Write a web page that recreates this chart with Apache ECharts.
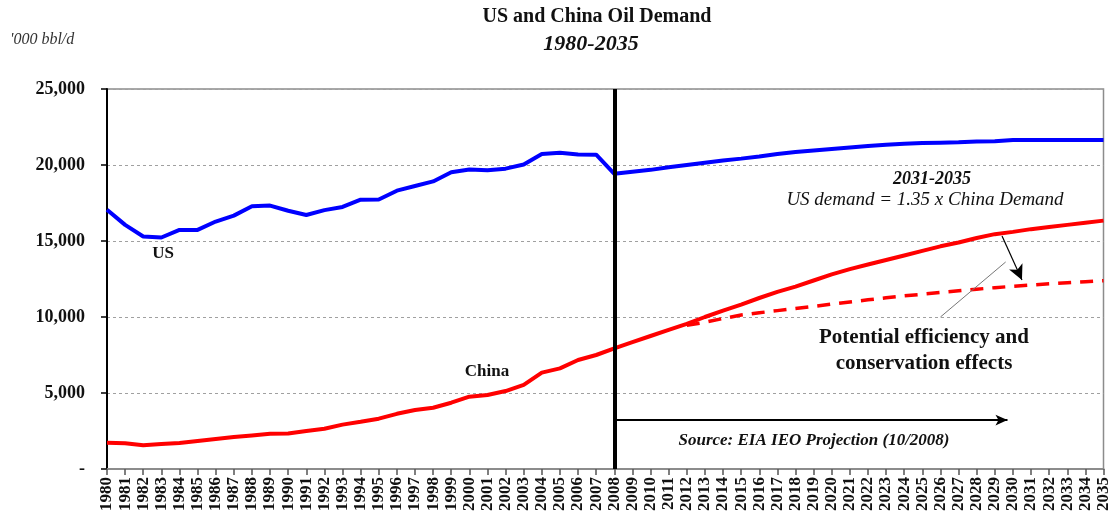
<!DOCTYPE html>
<html>
<head>
<meta charset="utf-8">
<script src="https://cdn.jsdelivr.net/npm/echarts@6/dist/echarts.min.js"></script>
<style>
html,body{margin:0;padding:0;background:#fff;}
#chart{width:1112px;height:521px;}
</style>
</head>
<body>
<div id="chart"></div>
<script>
// ---- Data ----
const years = [];
for (let y = 1980; y <= 2035; y++) years.push(y);

const usDemand = [
  17060, 16060, 15300, 15230, 15730, 15730, 16280, 16670, 17280, 17330,
  16990, 16710, 17030, 17240, 17720, 17730, 18310, 18620, 18920, 19520,
  19700, 19650, 19760, 20030, 20730, 20800, 20690, 20680, 19420, 19560,
  19680, 19850, 20000, 20150, 20300, 20420, 20560, 20720, 20850, 20950,
  21050, 21150, 21250, 21330, 21400, 21440, 21470, 21500, 21540, 21570,
  21650, 21650, 21650, 21650, 21650, 21650
];

const chinaDemand = [
  1720, 1700, 1560, 1640, 1710, 1840, 1970, 2100, 2210, 2320,
  2340, 2500, 2650, 2920, 3110, 3310, 3630, 3880, 4030, 4360,
  4760, 4870, 5130, 5530, 6340, 6620, 7170, 7500, 7940, 8350,
  8750, 9150, 9550, 10000, 10420, 10820, 11250, 11650, 12000, 12400,
  12800, 13150, 13450, 13750, 14050, 14350, 14650, 14900, 15200, 15450,
  15600, 15780, 15920, 16060, 16200, 16340
];

const efficiencyYears = [];
for (let y = 2012; y <= 2035; y++) efficiencyYears.push(y);
const chinaEfficiency = [
  9450, 9650, 9900, 10130, 10280, 10420, 10560, 10700, 10850, 10990,
  11130, 11260, 11390, 11500, 11610, 11720, 11830, 11930, 12020, 12100,
  12180, 12250, 12320, 12390
];

const yTicks = [0, 5000, 10000, 15000, 20000, 25000];
const yTickLabels = ['-', '5,000', '10,000', '15,000', '20,000', '25,000'];

const projectionStart = 2008;

// ---- Chart ----
const chart = echarts.init(document.getElementById('chart'), null, {renderer: 'canvas'});
const serif = '"Liberation Serif", "Times New Roman", serif';

const usData = years.map((y, i) => [y, usDemand[i]]);
const chinaData = years.map((y, i) => [y, chinaDemand[i]]);
const effData = efficiencyYears.map((y, i) => [y, chinaEfficiency[i]]);

const option = {
  animation: false,
  backgroundColor: '#ffffff',
  grid: {left: 107, right: 3, top: 89, bottom: 52, show: true, borderColor: '#8c8c8c', borderWidth: 1.5, containLabel: false},
  xAxis: {
    type: 'value', min: 1980, max: 2035, interval: 1,
    axisLine: {show: true, onZero: false, lineStyle: {color: '#8c8c8c', width: 2}},
    axisTick: {show: true, length: 6, lineStyle: {color: '#555', width: 1.5}},
    splitLine: {show: false},
    axisLabel: {
      rotate: 90, margin: 8, fontFamily: serif, fontWeight: 'bold', fontSize: 17, color: '#111',
      formatter: v => String(v)
    }
  },
  yAxis: {
    type: 'value', min: 0, max: 25000, interval: 5000,
    axisLine: {show: true, lineStyle: {color: '#000', width: 2}},
    axisTick: {show: true, length: 6, lineStyle: {color: '#000', width: 1.5}},
    splitLine: {show: true, lineStyle: {color: '#a0a0a0', width: 1, type: [3, 3]}},
    axisLabel: {
      margin: 22, fontFamily: serif, fontWeight: 'bold', fontSize: 18, color: '#111',
      formatter: v => yTickLabels[yTicks.indexOf(v)]
    }
  },
  series: [
    {
      name: 'US', type: 'line', data: usData, showSymbol: false, symbol: 'none',
      lineStyle: {color: '#0000ff', width: 4}, z: 3
    },
    {
      name: 'China', type: 'line', data: chinaData, showSymbol: false, symbol: 'none',
      lineStyle: {color: '#ff0000', width: 4}, z: 3
    },
    {
      name: 'China efficiency', type: 'line', data: effData, showSymbol: false, symbol: 'none',
      lineStyle: {color: '#ff0000', width: 3.5, type: [13, 9]}, z: 3,
      markLine: {
        silent: true, animation: false, label: {show: false},
        data: [
          [{coord: [projectionStart, 0], symbol: 'none', lineStyle: {color: '#000', width: 4, type: 'solid'}},
           {coord: [projectionStart, 25000], symbol: 'none'}],
          [{coord: [projectionStart, 3220], symbol: 'none', lineStyle: {color: '#000', width: 2, type: 'solid'}},
           {coord: [2029.7, 3220], symbol: 'arrow', symbolSize: [8, 12]}],
          [{coord: [2029.4, 15330], symbol: 'none', lineStyle: {color: '#000', width: 1.2, type: 'solid'}},
           {coord: [2030.5, 12430], symbol: 'arrow', symbolSize: [11, 15]}],
          [{coord: [2029.6, 13620], symbol: 'none', lineStyle: {color: '#777', width: 1, type: 'solid'}},
           {coord: [2026.0, 10000], symbol: 'none'}]
        ]
      }
    }
  ],
  graphic: [
    {type: 'text', x: 597, y: 17, style: {text: 'US and China Oil Demand', font: 'bold 20px ' + serif, fill: '#111', textAlign: 'center', textVerticalAlign: 'middle'}},
    {type: 'text', x: 591, y: 44, style: {text: '1980-2035', font: 'italic bold 22px ' + serif, fill: '#111', textAlign: 'center', textVerticalAlign: 'middle'}},
    {type: 'text', x: 10, y: 40, style: {text: "'000 bbl/d", font: 'italic 16px ' + serif, fill: '#333', textAlign: 'left', textVerticalAlign: 'middle'}},
    {type: 'text', x: 163, y: 254, style: {text: 'US', font: 'bold 17px ' + serif, fill: '#111', textAlign: 'center', textVerticalAlign: 'middle'}},
    {type: 'text', x: 487, y: 372, style: {text: 'China', font: 'bold 17px ' + serif, fill: '#111', textAlign: 'center', textVerticalAlign: 'middle'}},
    {type: 'text', x: 932, y: 179, style: {text: '2031-2035', font: 'italic bold 18px ' + serif, fill: '#111', textAlign: 'center', textVerticalAlign: 'middle'}},
    {type: 'text', x: 925, y: 200, style: {text: 'US demand = 1.35 x China Demand', font: 'italic 19px ' + serif, fill: '#111', textAlign: 'center', textVerticalAlign: 'middle'}},
    {type: 'text', x: 924, y: 338, style: {text: 'Potential efficiency and', font: 'bold 21px ' + serif, fill: '#111', textAlign: 'center', textVerticalAlign: 'middle'}},
    {type: 'text', x: 924, y: 364, style: {text: 'conservation effects', font: 'bold 21px ' + serif, fill: '#111', textAlign: 'center', textVerticalAlign: 'middle'}},
    {type: 'text', x: 814, y: 441, style: {text: 'Source: EIA IEO Projection (10/2008)', font: 'italic bold 17px ' + serif, fill: '#111', textAlign: 'center', textVerticalAlign: 'middle'}}
  ]
};
chart.setOption(option);
</script>
</body>
</html>
